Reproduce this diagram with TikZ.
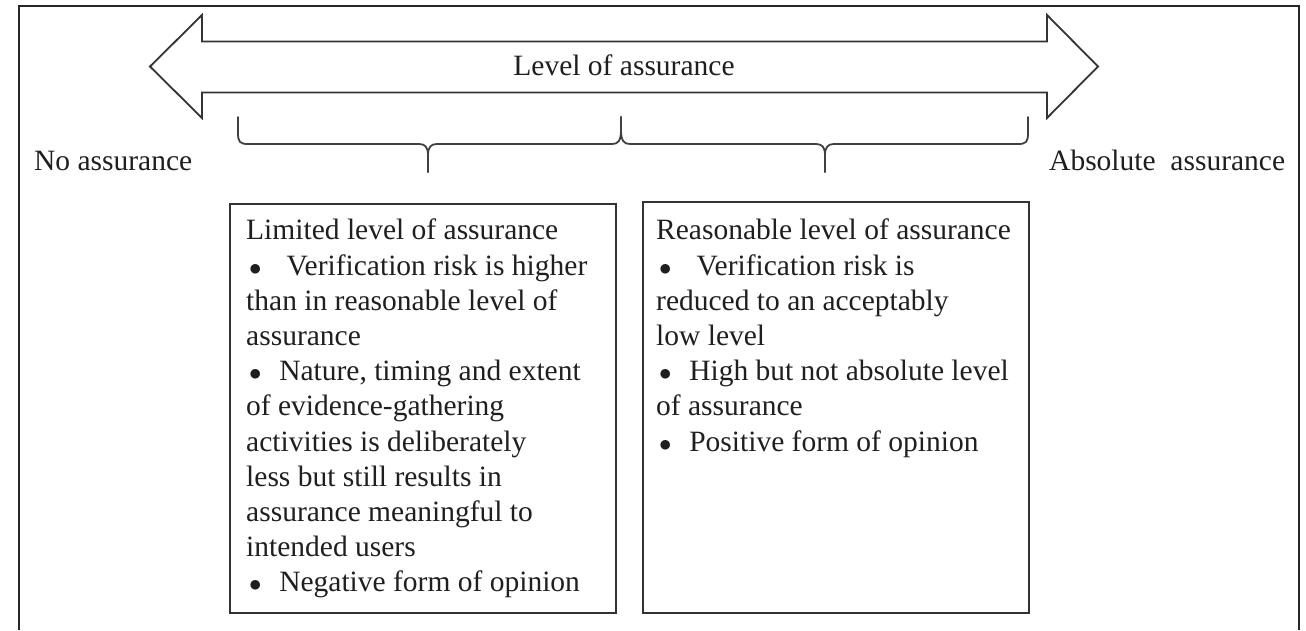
\documentclass[tikz,border=0pt]{standalone}
\usepackage{fontspec}
\setmainfont{Liberation Serif}
\newcommand{\bul}[1][0.6em]{\hspace{0.1em}$\bullet$\hspace{#1}}
\begin{document}
\begin{tikzpicture}[x=1pt,y=-1pt,
  ink/.style={draw=black!80, line width=1.8pt, line join=miter},
  txt/.style={font=\fontsize{29.5}{35.2}\selectfont, text=black!88, inner sep=0pt},
  panel/.style={draw=black!80, line width=1.8pt, inner sep=0pt, anchor=north west},
  bracepath/.style={draw=black!75, line width=1.8pt, line cap=round, line join=round}]
\useasboundingbox (0,0) rectangle (1306,630);

% outer frame, open at the bottom
\draw[line width=2pt, black!85] (19,630) -- (19,6) -- (1299,6) -- (1299,630);

% double-headed block arrow with its label
\draw[ink, fill=white] (150,66.5) -- (202,15) -- (202,41.5) -- (1047,41.5)
  -- (1047,15) -- (1098,66.5) -- (1047,118) -- (1047,92.5) -- (202,92.5)
  -- (202,118) -- cycle;
\node[txt, anchor=base] (level) at (624,75) {Level of assurance};

% end labels
\node[txt, anchor=base west] (none) at (34,170) {No assurance};
\node[txt, anchor=base west] (absolute) at (1049,170) {Absolute\ \ assurance};

% braces
\coordinate (bL) at (238,117);
\coordinate (bM) at (621,117);
\coordinate (bR) at (1028,117);
\coordinate (tL) at (428,172);
\coordinate (tR) at (825,172);
\draw[bracepath] (bL) -- (238,133) .. controls (238,142) and (240,144) .. (248,144)
  -- (419,144) .. controls (425,144) and (428,147) .. (428,155) -- (tL);
\draw[bracepath] (tL) -- (428,155) .. controls (428,147) and (431,144) .. (437,144)
  -- (612,144) .. controls (618,144) and (621,141) .. (621,130) -- (bM);
\draw[bracepath] (bM) -- (621,130) .. controls (621,141) and (624,144) .. (630,144)
  -- (816,144) .. controls (822,144) and (825,147) .. (825,155) -- (tR);
\draw[bracepath] (tR) -- (825,155) .. controls (825,147) and (828,144) .. (834,144)
  -- (1018,144) .. controls (1026,144) and (1028,142) .. (1028,133) -- (bR);

% the two panels
\node[panel, minimum width=386pt, minimum height=409pt] (limitedbox) at (229,203) {};
\node[panel, minimum width=386pt, minimum height=411pt] (reasonablebox) at (642,201) {};

\node[txt, anchor=north west, align=left] (limited) at (246,219) {%
Limited level of assurance\\
\bul[0.85em]Verification risk is higher\\
than in reasonable level of\\
assurance\\
\bul Nature, timing and extent\\
of evidence-gathering\\
activities is deliberately\\
less but still results in\\
assurance meaningful to\\
intended users\\
\bul Negative form of opinion};

\node[txt, anchor=north west, align=left] (reasonable) at (656,219) {%
Reasonable level of assurance\\
\bul[0.85em]Verification risk is\\
reduced to an acceptably\\
low level\\
\bul High but not absolute level\\
of assurance\\
\bul Positive form of opinion};
\end{tikzpicture}
\end{document}
